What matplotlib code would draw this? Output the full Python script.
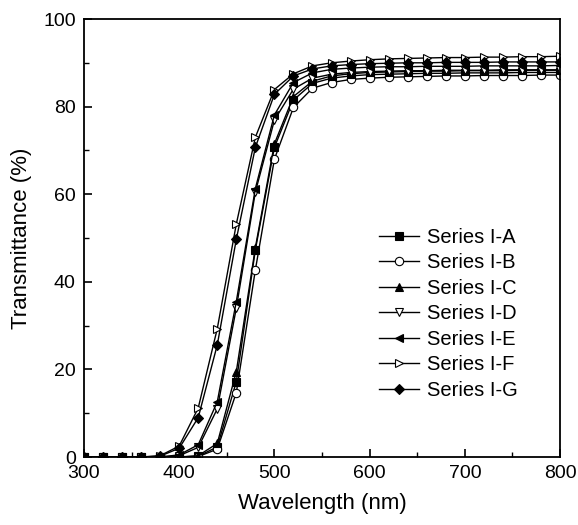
import matplotlib
matplotlib.use("Agg")
import matplotlib.pyplot as plt
from matplotlib.ticker import MultipleLocator

plt.rcParams["font.family"] = ["Liberation Sans", "DejaVu Sans"]

wavelength = list(range(300, 801, 20))

series_a = [0, 0, 0, 0, 0, 0, 0.2, 2.3, 17.2, 47.3, 70.7, 81.5, 85.3, 86.5, 87.0, 87.3,
            87.4, 87.5, 87.6, 87.6, 87.7, 87.7, 87.7, 87.8, 87.8, 87.8]
series_b = [0, 0, 0, 0, 0, 0, 0.1, 1.8, 14.7, 42.7, 68.0, 79.8, 84.2, 85.5, 86.2, 86.5,
            86.7, 86.8, 86.9, 87.0, 87.0, 87.1, 87.1, 87.1, 87.2, 87.2]
series_c = [0, 0, 0, 0, 0, 0, 0.3, 3.1, 19.5, 47.8, 71.5, 82.3, 85.8, 87.0, 87.5, 87.8,
            87.9, 88.0, 88.1, 88.1, 88.2, 88.2, 88.2, 88.3, 88.3, 88.3]
series_d = [0, 0, 0, 0, 0, 0.3, 2.2, 11.0, 34.0, 60.5, 76.9, 84.0, 86.5, 87.4, 87.8, 88.0,
            88.1, 88.2, 88.2, 88.3, 88.3, 88.3, 88.4, 88.4, 88.4, 88.4]
series_e = [0, 0, 0, 0, 0, 0.5, 2.8, 12.6, 35.5, 61.3, 78.1, 85.5, 87.7, 88.5, 88.8, 89.0,
            89.1, 89.1, 89.2, 89.2, 89.2, 89.3, 89.3, 89.3, 89.3, 89.4]
series_f = [0, 0, 0, 0, 0.3, 2.5, 11.2, 29.3, 53.2, 73.0, 83.9, 87.5, 89.3, 90.0, 90.4, 90.7,
            90.9, 91.0, 91.1, 91.2, 91.2, 91.3, 91.3, 91.4, 91.4, 91.5]
series_g = [0, 0, 0, 0, 0.2, 2.0, 9.0, 25.6, 49.7, 70.7, 82.8, 87.0, 88.6, 89.3, 89.6, 89.8,
            89.9, 90.0, 90.0, 90.1, 90.1, 90.1, 90.2, 90.2, 90.2, 90.2]

labels = ["Series I-A", "Series I-B", "Series I-C", "Series I-D",
          "Series I-E", "Series I-F", "Series I-G"]
values = [series_a, series_b, series_c, series_d, series_e, series_f, series_g]
markers = ["s", "o", "^", "v", "<", ">", "D"]
faces = ["black", "white", "black", "white", "black", "white", "black"]

fig = plt.figure(figsize=(5.78, 5.25), dpi=100)
ax = fig.add_axes([0.1453, 0.1295, 0.8236, 0.8343])

for y, lab, m, fc in zip(values, labels, markers, faces):
    ms = 5.5 if m == "D" else 6
    ax.plot(wavelength, y, color="black", linewidth=1.0, marker=m, markersize=ms,
            markerfacecolor=fc, markeredgecolor="black", markeredgewidth=0.8, label=lab)

ax.set_xlim(300, 800)
ax.set_ylim(0, 100)
ax.xaxis.set_major_locator(MultipleLocator(100))
ax.xaxis.set_minor_locator(MultipleLocator(50))
ax.yaxis.set_major_locator(MultipleLocator(20))
ax.yaxis.set_minor_locator(MultipleLocator(10))
ax.tick_params(which="both", direction="in", top=False, right=False, labelsize=14)
ax.tick_params(which="major", length=6, width=1.2, pad=6)
ax.tick_params(which="minor", length=3.5, width=1.0)
for sp in ax.spines.values():
    sp.set_linewidth(1.3)

ax.set_xlabel("Wavelength (nm)", fontsize=16, labelpad=8)
ax.set_ylabel("Transmittance (%)", fontsize=16, labelpad=8)

ax.legend(loc="upper left", bbox_to_anchor=(0.59, 0.555), frameon=False, fontsize=14.5,
          handlelength=2.0, handletextpad=0.4, labelspacing=0.32, borderpad=0.2)

fig.savefig("out.png", dpi=100)
